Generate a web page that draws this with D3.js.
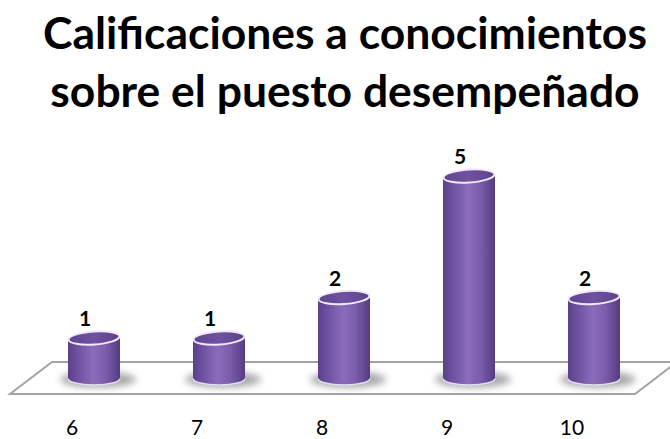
<!DOCTYPE html>
<html>
<head>
<meta charset="utf-8">
<script src="https://cdn.jsdelivr.net/npm/d3@7"></script>
<style>
  html, body { margin: 0; padding: 0; background: #fff; }
  svg { display: block; }
</style>
</head>
<body>
<svg id="chart" width="670" height="439"></svg>
<script>
// Chart data
const titleLines = ["Calificaciones a conocimientos", "sobre el puesto desempeñado"];
const categories = ["6", "7", "8", "9", "10"];
const counts = [1, 1, 2, 5, 2];

const W = 670, H = 439;
const svg = d3.select("#chart");
const defs = svg.append("defs");

// Cylinder body shading, dark edges and a lighter middle
const bodyGrad = defs.append("linearGradient").attr("id", "bodyGrad")
  .attr("x1", "0%").attr("x2", "100%").attr("y1", "0%").attr("y2", "0%");
[["0%", "#5a4189"], ["18%", "#6d51a0"], ["48%", "#8a6cba"], ["72%", "#7b5dab"], ["100%", "#553c82"]]
  .forEach(([o, c]) => bodyGrad.append("stop").attr("offset", o).attr("stop-color", c));

const topGrad = defs.append("linearGradient").attr("id", "topGrad")
  .attr("x1", "0%").attr("x2", "100%").attr("y1", "0%").attr("y2", "0%");
[["0%", "#5f4590"], ["50%", "#6f52a0"], ["100%", "#5c428c"]]
  .forEach(([o, c]) => topGrad.append("stop").attr("offset", o).attr("stop-color", c));

defs.append("filter").attr("id", "soft")
  .attr("x", "-50%").attr("y", "-100%").attr("width", "200%").attr("height", "300%")
  .append("feGaussianBlur").attr("stdDeviation", 3.5);

// Scales
const x = d3.scalePoint().domain(categories).range([94, 594]);
const y = d3.scaleLinear().domain([0, 5]).range([378.5, 176]);

const rx = 26, ry = 6.5;

// Floor plane
const floorFront = 394, floorBack = 362, depthDx = 42;
const floorLeft = 10, floorRight = 635;
svg.append("path")
  .attr("d", `M${floorLeft},${floorFront} L${floorLeft + depthDx},${floorBack} L${floorRight + depthDx},${floorBack} L${floorRight},${floorFront} Z`)
  .attr("fill", "#ffffff")
  .attr("stroke", "#a3a3a3")
  .attr("stroke-width", 2);

// Shadows under cylinders
svg.append("g").selectAll("ellipse")
  .data(categories)
  .join("ellipse")
  .attr("cx", d => x(d) + 4)
  .attr("cy", y(0) + 1)
  .attr("rx", rx + 12)
  .attr("ry", 8)
  .attr("fill", "#8c8c8c")
  .attr("opacity", 0.75)
  .attr("filter", "url(#soft)");

// Cylinders
const bars = svg.append("g").selectAll("g")
  .data(categories.map((c, i) => ({ c, v: counts[i] })))
  .join("g");

bars.append("path")
  .attr("d", d => {
    const cx = x(d.c), top = y(d.v), base = y(0);
    return `M${cx - rx},${top} L${cx - rx},${base} A${rx},${ry} 0 0 0 ${cx + rx},${base} L${cx + rx},${top} Z`;
  })
  .attr("fill", "url(#bodyGrad)");

// Light rim along the bottom edge
bars.append("path")
  .attr("d", d => {
    const cx = x(d.c), base = y(0);
    return `M${cx - rx},${base} A${rx},${ry} 0 0 0 ${cx + rx},${base}`;
  })
  .attr("fill", "none")
  .attr("stroke", "#e6dcf2")
  .attr("stroke-width", 1.5);

// Top caps
bars.append("ellipse")
  .attr("cx", d => x(d.c))
  .attr("cy", d => y(d.v))
  .attr("rx", rx - 0.5)
  .attr("ry", ry)
  .attr("transform", d => `rotate(-4 ${x(d.c)} ${y(d.v)})`)
  .attr("fill", "url(#topGrad)")
  .attr("stroke", "#f1e9fa")
  .attr("stroke-width", 2);

// Value labels
svg.append("g").selectAll("text")
  .data(categories.map((c, i) => ({ c, v: counts[i] })))
  .join("text")
  .attr("x", d => x(d.c) - 9)
  .attr("y", d => y(d.v) - 12)
  .attr("text-anchor", "middle")
  .attr("font-family", "Lato, 'Open Sans', sans-serif")
  .attr("font-weight", "bold")
  .attr("font-size", 21)
  .attr("fill", "#000")
  .text(d => d.v);

// Category labels along the front edge
svg.append("g").selectAll("text")
  .data(categories)
  .join("text")
  .attr("x", d => x(d) - 22)
  .attr("y", 434.5)
  .attr("text-anchor", "middle")
  .attr("font-family", "Lato, 'Open Sans', sans-serif")
  .attr("font-size", 21)
  .attr("fill", "#000")
  .text(d => d);

// Title, two centred lines
const title = svg.append("g").selectAll("text")
  .data(titleLines)
  .join("text")
  .attr("x", 345)
  .attr("y", (d, i) => 49 + i * 58)
  .attr("text-anchor", "middle")
  .attr("font-family", "Lato, 'Open Sans', sans-serif")
  .attr("font-weight", "bold")
  .attr("font-size", 42)
  .attr("fill", "#000")
  .text(d => d);

// Fit the first title line to its width
const w0 = title.nodes()[0].getComputedTextLength();
const fs = 42 * 604 / w0;
title.attr("font-size", fs);
</script>
</body>
</html>
